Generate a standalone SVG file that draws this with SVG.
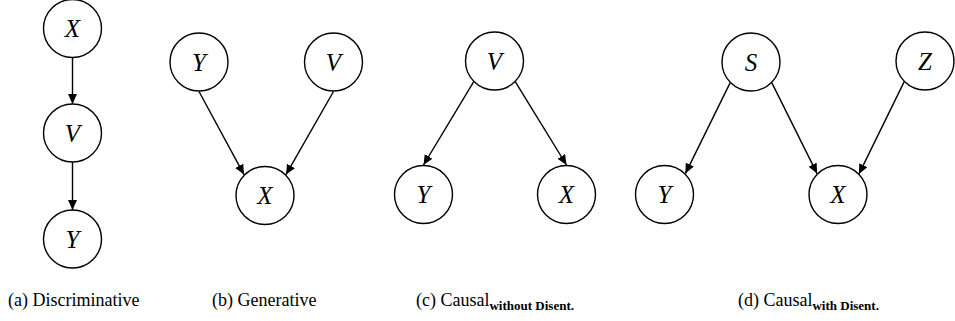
<svg xmlns="http://www.w3.org/2000/svg" width="955" height="321" viewBox="0 0 955 321">
<style>
.node circle{fill:#fff;stroke:#000;stroke-width:1.4}
.node text{font-family:"Liberation Serif","Times New Roman",serif;font-style:italic;font-size:25px;text-anchor:middle;fill:#000}
.edges line{stroke:#000;stroke-width:1.4;marker-end:url(#arr)}
.cap{font-family:"Liberation Serif","Times New Roman",serif;font-size:18px;fill:#000}
.sub{font-size:13px;font-weight:bold}
</style>
<defs>
<marker id="arr" markerUnits="userSpaceOnUse" markerWidth="11" markerHeight="10" refX="10" refY="4.5" orient="auto">
<path d="M0,0 L10,4.5 L0,9 Z" fill="#000"/>
</marker>
</defs>
<rect width="955" height="321" fill="#fff"/>
<g class="edges">
<line x1="72.5" y1="57.5" x2="72.5" y2="104"/>
<line x1="72.5" y1="162" x2="72.5" y2="210"/>
<line x1="199" y1="91.5" x2="244" y2="174.6"/>
<line x1="333.5" y1="91.5" x2="286" y2="174.6"/>
<line x1="473.6" y1="81.9" x2="423.5" y2="165"/>
<line x1="515.4" y1="81.9" x2="566.5" y2="165"/>
<line x1="730.1" y1="82.9" x2="685.4" y2="173.6"/>
<line x1="771.9" y1="82.9" x2="817.1" y2="173.6"/>
<line x1="904.1" y1="81.9" x2="858.9" y2="174.1"/>
</g>
<g id="a-X" class="node"><circle cx="72.5" cy="28.5" r="29"/><text x="72.5" y="37">X</text></g>
<g id="a-V" class="node"><circle cx="72.5" cy="133" r="29"/><text x="72.5" y="141.5">V</text></g>
<g id="a-Y" class="node"><circle cx="72.5" cy="239" r="29"/><text x="72.5" y="247.5">Y</text></g>
<g id="b-Y" class="node"><circle cx="199" cy="62" r="29"/><text x="199" y="70.5">Y</text></g>
<g id="b-V" class="node"><circle cx="333.5" cy="62" r="29"/><text x="333.5" y="70.5">V</text></g>
<g id="b-X" class="node"><circle cx="265" cy="195.5" r="29"/><text x="265" y="204">X</text></g>
<g id="c-V" class="node"><circle cx="494.5" cy="61" r="29"/><text x="494.5" y="69.5">V</text></g>
<g id="c-Y" class="node"><circle cx="423.5" cy="194.5" r="29"/><text x="423.5" y="203">Y</text></g>
<g id="c-X" class="node"><circle cx="566.5" cy="194.5" r="29"/><text x="566.5" y="203">X</text></g>
<g id="d-S" class="node"><circle cx="751" cy="62" r="29"/><text x="751" y="70.5">S</text></g>
<g id="d-Z" class="node"><circle cx="925" cy="61" r="29"/><text x="925" y="69.5">Z</text></g>
<g id="d-Y" class="node"><circle cx="664.5" cy="194.5" r="29"/><text x="664.5" y="203">Y</text></g>
<g id="d-X" class="node"><circle cx="838" cy="194.5" r="29"/><text x="838" y="203">X</text></g>
<g id="captions">
<text class="cap" x="8" y="306">(a) Discriminative</text>
<text class="cap" x="212" y="306">(b) Generative</text>
<text class="cap" x="416" y="306">(c) Causal<tspan class="sub" dy="4">without Disent.</tspan></text>
<text class="cap" x="738" y="306">(d) Causal<tspan class="sub" dy="4">with Disent.</tspan></text>
</g>
</svg>
